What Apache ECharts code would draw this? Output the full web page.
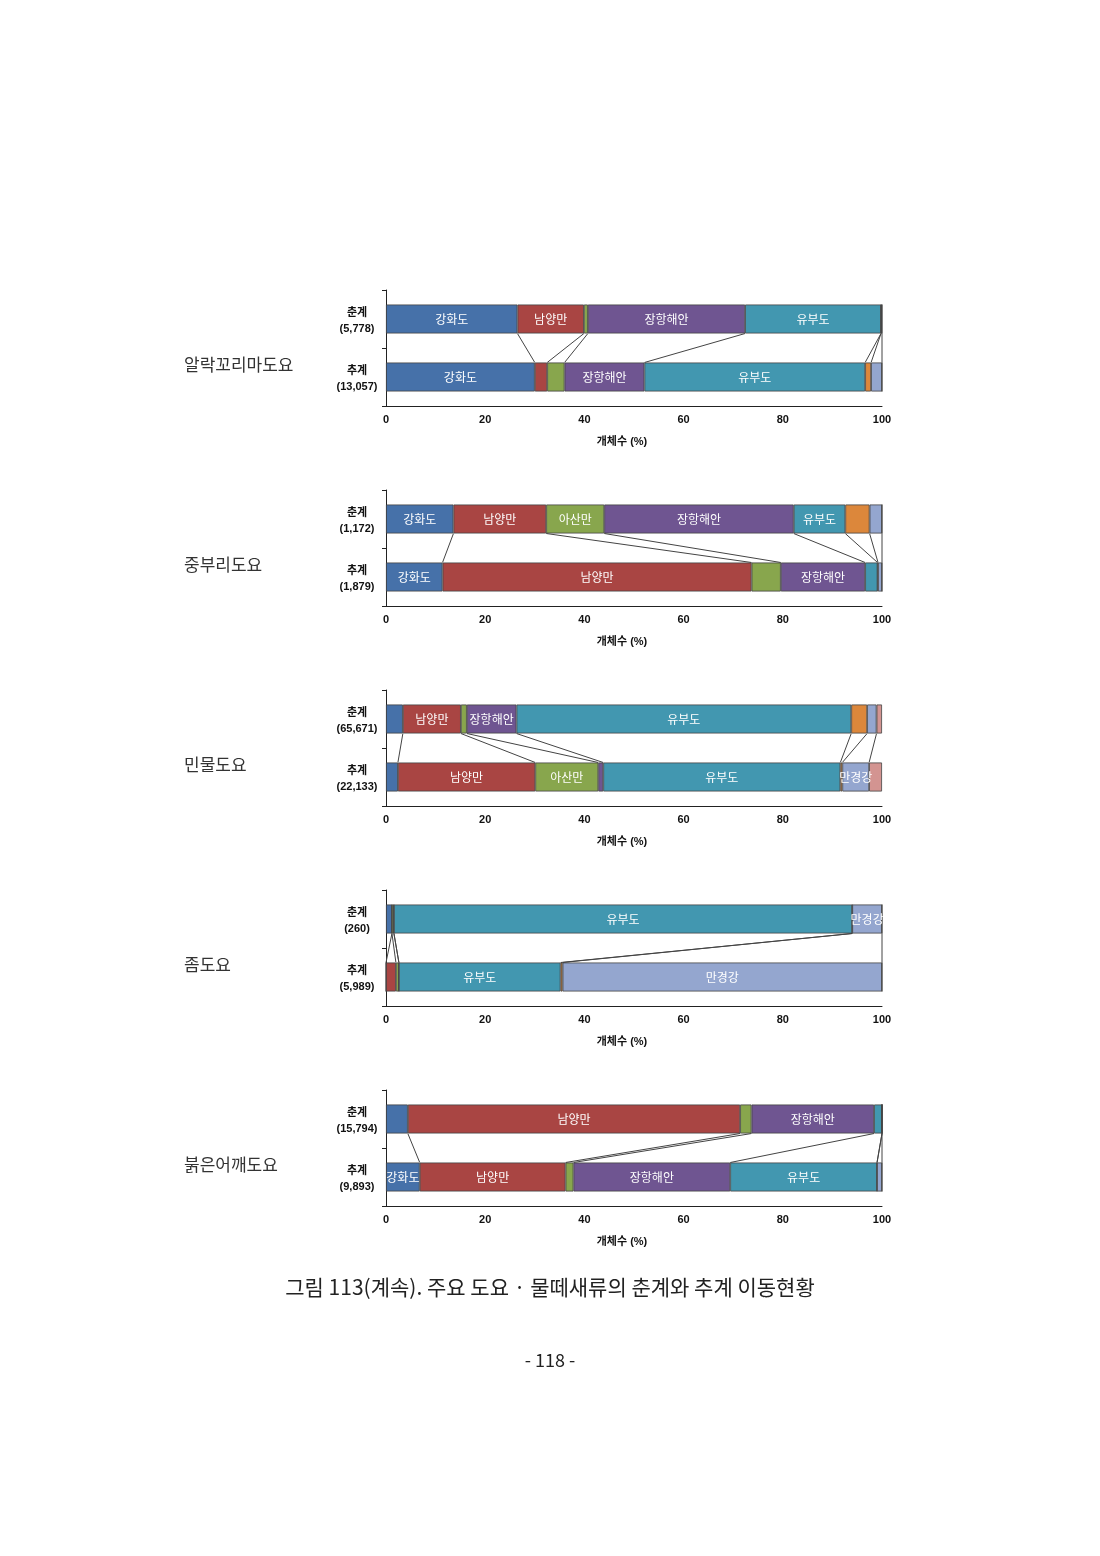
<!DOCTYPE html>
<html>
<head>
<meta charset="utf-8">
<script src="https://cdn.jsdelivr.net/npm/echarts@6/dist/echarts.min.js"></script>
<style>
  html, body { margin: 0; padding: 0; background: #fff; }
  #chart { width: 1100px; height: 1556px; }
</style>
</head>
<body>
<div id="chart"></div>
<script>
// 지역 (막대 구간 순서)
var categories = ['강화도', '남양만', '아산만', '장항해안', '유부도', '금강하구', '만경강', '동진강'];
var colors = ['#4671a9', '#a94543', '#88a64d', '#6f5591', '#4297b0', '#dc873b', '#94a6cf', '#d39491'];

var species = ['알락꼬리마도요', '중부리도요', '민물도요', '좀도요', '붉은어깨도요'];
var springTotals = ['5,778', '1,172', '65,671', '260', '15,794'];
var autumnTotals = ['13,057', '1,879', '22,133', '5,989', '9,893'];

// 개체수 비율 (%) - 춘계
var springPct = [
  [26.5, 13.4, 0.8, 31.7, 27.4, 0, 0.2, 0],
  [13.6, 18.7, 11.7, 38.2, 10.4, 4.9, 2.5, 0],
  [3.4, 11.7, 1.2, 10.0, 67.5, 3.2, 1.9, 1.1],
  [1.2, 0, 0.4, 0, 92.4, 0, 6.0, 0],
  [4.4, 67.0, 2.3, 24.7, 1.6, 0, 0, 0]
];
// 개체수 비율 (%) - 추계
var autumnPct = [
  [30.0, 2.5, 3.5, 16.1, 44.5, 1.2, 2.2, 0],
  [11.4, 62.3, 5.9, 17.0, 2.5, 0.1, 0.8, 0],
  [2.4, 27.7, 12.7, 1.0, 47.8, 0.4, 5.4, 2.6],
  [0, 2.0, 0.6, 0, 32.6, 0.4, 64.4, 0],
  [6.8, 29.4, 1.6, 31.6, 29.6, 0, 1.0, 0]
];

// 막대 안에 이름을 쓰는 구간
var springLabels = [
  ['강화도', '남양만', '장항해안', '유부도'],
  ['강화도', '남양만', '아산만', '장항해안', '유부도'],
  ['남양만', '장항해안', '유부도'],
  ['유부도', '만경강'],
  ['남양만', '장항해안']
];
var autumnLabels = [
  ['강화도', '장항해안', '유부도'],
  ['강화도', '남양만', '장항해안'],
  ['남양만', '아산만', '유부도', '만경강'],
  ['유부도', '만경강'],
  ['강화도', '남양만', '장항해안', '유부도']
];

var xTicks = [0, 20, 40, 60, 80, 100];

var chart = echarts.init(document.getElementById('chart'));

var grids = [], xAxes = [], yAxes = [], series = [], graphics = [];

species.forEach(function (sp, k) {
  grids.push({ left: 386, width: 496, top: 290 + 200 * k, height: 116 });

  xAxes.push({
    gridIndex: k,
    type: 'value',
    min: xTicks[0],
    max: xTicks[xTicks.length - 1],
    interval: xTicks[1] - xTicks[0],
    splitLine: { show: false },
    axisTick: { show: false },
    axisLine: { show: true, lineStyle: { color: '#222', width: 1 } },
    axisLabel: { margin: 8, color: '#111', fontSize: 11, fontWeight: 'bold', fontFamily: 'Liberation Sans' },
    name: '개체수 (%)',
    nameLocation: 'middle',
    nameGap: 30,
    nameTextStyle: {
      color: '#111', fontSize: 11, fontWeight: 'bold', padding: [0, 24, 0, 0],
      fontFamily: 'Liberation Sans, Noto Sans CJK KR'
    }
  });

  yAxes.push({
    gridIndex: k,
    type: 'category',
    inverse: true,
    data: ['춘계\n(' + springTotals[k] + ')', '추계\n(' + autumnTotals[k] + ')'],
    axisLine: { show: true, lineStyle: { color: '#222', width: 1 } },
    axisTick: { show: true, length: 4, lineStyle: { color: '#222' } },
    axisLabel: {
      margin: 29, align: 'center',
      color: '#111', fontSize: 11, fontWeight: 'bold', fontFamily: 'Liberation Sans, Noto Sans CJK KR',
      formatter: function (v) {
        var parts = v.split('\n');
        return '{t|' + parts[0] + '}\n{n|' + parts[1] + '}';
      },
      rich: {
        t: { height: 12, padding: [4, 0, 0, 0], fontSize: 11, fontWeight: 'bold', color: '#111' },
        n: { height: 12, padding: [4, 0, 0, 0], fontSize: 11, fontWeight: 'bold', color: '#111' }
      }
    }
  });

  categories.forEach(function (cat, i) {
    series.push({
      name: cat,
      type: 'bar',
      xAxisIndex: k,
      yAxisIndex: k,
      stack: 'p' + k,
      barWidth: '50%',
      itemStyle: { color: colors[i], borderColor: '#444', borderWidth: 0.8 },
      label: {
        show: false, position: 'inside', formatter: '{a}',
        color: '#fff', fontSize: 12, fontFamily: 'Noto Sans CJK KR'
      },
      data: [
        { value: springPct[k][i], label: { show: springLabels[k].indexOf(cat) >= 0 } },
        { value: autumnPct[k][i], label: { show: autumnLabels[k].indexOf(cat) >= 0 } }
      ]
    });
  });

  // 춘계/추계 구간 경계를 잇는 선
  var links = [];
  var cs = 0, ca = 0;
  for (var i = 0; i < categories.length - 1; i++) {
    cs += springPct[k][i];
    ca += autumnPct[k][i];
    links.push([cs, ca]);
  }
  series.push({
    type: 'custom',
    xAxisIndex: k,
    yAxisIndex: k,
    encode: { x: [0, 1] },
    clip: false,
    silent: true,
    renderItem: function (params, api) {
      var p1 = api.coord([api.value(0), 0]);
      var p2 = api.coord([api.value(1), 1]);
      var half = api.size([0, 1])[1] * 0.25;
      return {
        type: 'line',
        shape: { x1: p1[0], y1: p1[1] + half, x2: p2[0], y2: p2[1] - half },
        style: { stroke: '#444', lineWidth: 1 }
      };
    },
    data: links
  });

  graphics.push({
    type: 'text',
    left: 184,
    top: 356 + 200 * k,
    style: { text: sp, fill: '#333', font: '17px "Noto Sans CJK KR"' }
  });
});

graphics.push({
  type: 'text',
  left: 'center',
  top: 1277,
  style: { text: '그림 113(계속). 주요 도요 · 물떼새류의 춘계와 추계 이동현황', fill: '#222', font: '21px "Noto Sans CJK KR"' }
});
graphics.push({
  type: 'text',
  left: 'center',
  top: 1351,
  style: { text: '- 118 -', fill: '#222', font: '18px "Noto Sans CJK KR"' }
});

chart.setOption({
  backgroundColor: '#fff',
  animation: false,
  grid: grids,
  xAxis: xAxes,
  yAxis: yAxes,
  series: series,
  graphic: graphics
});
</script>
</body>
</html>
